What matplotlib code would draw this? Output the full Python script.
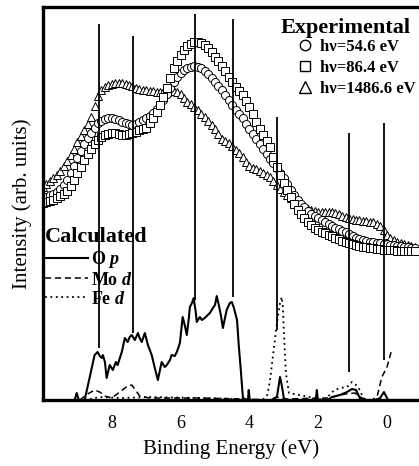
import matplotlib
matplotlib.use("Agg")
import matplotlib.pyplot as plt
from matplotlib.lines import Line2D

plt.rcParams['font.family'] = 'Liberation Serif'
plt.rcParams['mathtext.fontset'] = 'custom'
plt.rcParams['mathtext.rm'] = 'Liberation Serif:bold'
plt.rcParams['mathtext.it'] = 'Liberation Serif:italic:bold'

# experimental spectra, binding energy (eV) vs intensity (arb. units)
exp_energy = [10.0, 9.9, 9.8, 9.7, 9.6, 9.5, 9.4, 9.3, 9.2, 9.1, 9.0, 8.9, 8.8, 8.7,
              8.6, 8.5, 8.4, 8.3, 8.2, 8.1, 8.0, 7.9, 7.8, 7.7, 7.6, 7.5, 7.4, 7.3,
              7.2, 7.1, 7.0, 6.9, 6.8, 6.7, 6.6, 6.5, 6.4, 6.3, 6.2, 6.1, 6.0, 5.9,
              5.8, 5.7, 5.6, 5.5, 5.4, 5.3, 5.2, 5.1, 5.0, 4.9, 4.8, 4.7, 4.6, 4.5,
              4.4, 4.3, 4.2, 4.1, 4.0, 3.9, 3.8, 3.7, 3.6, 3.5, 3.4, 3.3, 3.2, 3.1,
              3.0, 2.9, 2.8, 2.7, 2.6, 2.5, 2.4, 2.3, 2.2, 2.1, 2.0, 1.9, 1.8, 1.7,
              1.6, 1.5, 1.4, 1.3, 1.2, 1.1, 1.0, 0.9, 0.8, 0.7, 0.6, 0.5, 0.4, 0.3,
              0.2, 0.1, 0.0, -0.1, -0.2, -0.3, -0.4, -0.5, -0.6, -0.7, -0.8]
hv_54 = [202, 203, 205, 206, 208, 211, 215, 220, 227, 234, 242, 249, 256, 262,
         267, 272, 277, 279, 281, 282, 282, 281, 280, 278, 277, 276, 275, 276,
         278, 280, 282, 284, 287, 291, 295, 300, 306, 312, 318, 323, 327, 330,
         332, 333, 334, 333, 332, 329, 326, 322, 318, 314, 310, 305, 300, 295,
         290, 286, 282, 276, 271, 266, 261, 256, 251, 246, 241, 237, 232, 227,
         222, 216, 210, 205, 200, 196, 193, 189, 186, 184, 182, 180, 178, 176,
         174, 172, 171, 169, 168, 166, 164, 162, 161, 160, 159, 158, 158, 157,
         157, 156, 156, 155, 155, 154, 154, 153, 153, 152, 152]
hv_86 = [197, 198, 199, 200, 202, 204, 206, 209, 214, 220, 227, 233, 240, 246,
         251, 256, 260, 263, 265, 266, 267, 267, 266, 265, 265, 266, 267, 268,
         270, 271, 272, 277, 282, 288, 295, 303, 312, 322, 332, 339, 345, 350,
         354, 356, 358, 358, 357, 355, 352, 348, 343, 339, 334, 329, 323, 318,
         313, 309, 305, 299, 293, 286, 278, 271, 265, 259, 253, 243, 233, 225,
         217, 210, 203, 196, 190, 186, 182, 178, 175, 172, 170, 168, 167, 165,
         164, 162, 161, 159, 158, 157, 156, 155, 154, 153, 153, 152, 152, 151,
         151, 150, 150, 150, 150, 149, 149, 149, 149, 149, 149]
hv_1486 = [213, 216, 219, 222, 225, 229, 234, 239, 245, 251, 258, 264, 270, 276,
           283, 294, 304, 310, 313, 315, 316, 317, 317, 317, 316, 315, 314, 312,
           311, 310, 310, 309, 309, 308, 308, 308, 308, 309, 309, 308, 306, 302,
           298, 296, 293, 290, 286, 283, 279, 275, 271, 266, 261, 259, 257, 254,
           250, 247, 243, 238, 234, 232, 231, 229, 227, 225, 223, 219, 215, 211,
           208, 205, 202, 199, 197, 194, 192, 191, 190, 189, 188, 188, 188, 188,
           188, 187, 186, 184, 183, 182, 181, 180, 180, 179, 179, 178, 178, 176,
           174, 170, 165, 162, 160, 158, 157, 156, 155, 154, 153]

# calculated partial DOS
op_energy = [9.08, 9.02, 8.96, 8.79, 8.64, 8.50, 8.41, 8.35, 8.29, 8.26, 8.20, 8.15,
             8.06, 7.97, 7.88, 7.83, 7.71, 7.62, 7.54, 7.48, 7.42, 7.33, 7.24, 7.19,
             7.13, 7.04, 6.95, 6.84, 6.75, 6.66, 6.60, 6.55, 6.46, 6.40, 6.31, 6.26,
             6.17, 6.11, 6.02, 5.94, 5.88, 5.82, 5.76, 5.73, 5.67, 5.62, 5.56, 5.53,
             5.44, 5.38, 5.30, 5.21, 5.15, 5.06, 5.00, 4.95, 4.89, 4.83, 4.77, 4.71,
             4.66, 4.57, 4.51, 4.45, 4.36, 4.31, 4.25, 4.19, 4.13, 4.04, 4.02, 3.99,
             3.35, 3.20, 3.11, 3.06, 3.00, 2.94, 2.07, 2.04, 2.01, 1.72, 1.60, 1.37,
             1.16, 1.02, 0.90, 0.79, 0.73, 0.35, 0.20, 0.09, 0.03, -0.03, -0.93]
op_dos = [0, 7, 0, 0, 23, 45, 48, 44, 42, 45, 38, 22,
          35, 30, 38, 35, 48, 62, 58, 63, 65, 60, 67, 62,
          58, 67, 55, 45, 32, 20, 30, 38, 33, 35, 40, 45,
          44, 48, 57, 83, 75, 65, 82, 93, 97, 102, 88, 78,
          83, 80, 82, 85, 87, 92, 95, 104, 95, 85, 72, 82,
          90, 97, 98, 92, 80, 55, 30, 3, 0, 0, 10, 0,
          0, 3, 23, 15, 2, 0, 0, 10, 0, 0, 3, 5,
          8, 11, 10, 2, 0, 0, 2, 8, 4, 0, 0]

mo_energy = [8.93, 8.70, 8.50, 8.35, 8.20, 8.00, 7.77, 7.54, 7.42, 7.31, 7.19, 6.90,
             5.45, 4.16, 3.43, 3.20, 3.00, 1.69, 1.22, 0.93, 0.73, 0.44, 0.29,
             0.15, 0.00, -0.12]
mo_dos = [0, 6, 10, 8, 4, 2, 8, 14, 15, 10, 4, 2,
          2, 1, 0, 3, 1, 2, 6, 7, 2, 0, 3, 23,
          33, 48]

fe_energy = [8.79, 8.35, 7.77, 6.90, 5.44, 4.28, 3.62, 3.48, 3.40, 3.32, 3.20, 3.11,
             3.06, 3.03, 3.00, 2.94, 2.85, 1.82, 1.67, 1.53, 1.36, 1.16, 1.02, 0.90,
             0.79, 0.67, -0.93]
fe_dos = [0, 3, 2, 3, 2, 1, 0, 5, 20, 43, 77, 97,
          103, 95, 70, 27, 7, 0, 5, 10, 12, 13, 18, 15,
          10, 0, 0]

# positions of the features marked in the spectra
feature_energy = [8.38, 7.39, 5.57, 4.48, 3.20, 1.10, 0.09]
feature_low = [52, 67, 100, 103, 70, 28, 40]
feature_high = [376, 364, 386, 381, 283, 267, 277]

fig = plt.figure(figsize=(4.19, 4.66), dpi=100)
ax = fig.add_axes([0.1026, 0.1416, 0.8974, 0.8433])

mk = dict(linestyle='none', mfc='white', mec='black', mew=0.7, ms=5.8)
ax.plot(exp_energy, hv_1486, marker='^', **mk)
ax.plot(exp_energy, hv_54, marker='o', **mk)
ax.plot(exp_energy, hv_86, marker='s', **mk)

ax.plot(op_energy, op_dos, color='black', lw=1.5)
ax.plot(mo_energy, mo_dos, color='black', lw=1.1, linestyle=(0, (4, 2.5)))
ax.plot(fe_energy, fe_dos, color='black', lw=1.3, linestyle=(0, (1, 2)))

ax.vlines(feature_energy, feature_low, feature_high, color='black', lw=1.3, zorder=5)

ax.set_xlim(10.0, -0.93)
ax.set_ylim(0, 393)
ax.set_xticks([8, 6, 4, 2, 0])
ax.set_yticks([])
ax.tick_params(axis='x', length=0, pad=11, labelsize=13)
for s in ['left', 'bottom', 'top']:
    ax.spines[s].set_linewidth(2.4)
ax.spines['right'].set_visible(False)

ax.set_xlabel('Binding Energy (eV)', fontsize=15, labelpad=5)
ax.set_ylabel('Intensity (arb. units)', fontsize=15, labelpad=8)

ax.text(0.806, 0.947, 'Experimental', transform=ax.transAxes, ha='center',
        va='center', fontsize=16, fontweight='bold')
exp_handles = [
    Line2D([], [], marker='o', linestyle='none', mfc='white', mec='black', mew=1.0, ms=7.5),
    Line2D([], [], marker='s', linestyle='none', mfc='white', mec='black', mew=1.0, ms=7.5),
    Line2D([], [], marker='^', linestyle='none', mfc='white', mec='black', mew=1.0, ms=8),
]
leg1 = ax.legend(exp_handles, ['h\u03bd=54.6 eV', 'h\u03bd=86.4 eV', 'h\u03bd=1486.6 eV'],
                 loc='upper right', bbox_to_anchor=(0.99, 0.918),
                 frameon=False, borderpad=0, borderaxespad=0, handlelength=1.0,
                 handletextpad=0.35, labelspacing=0.3,
                 prop={'weight': 'bold', 'size': 12})
ax.add_artist(leg1)

calc_handles = [
    Line2D([], [], color='black', lw=1.5),
    Line2D([], [], color='black', lw=1.1, linestyle=(0, (4, 2.5))),
    Line2D([], [], color='black', lw=1.3, linestyle=(0, (1, 2))),
]
ax.legend(calc_handles, ['O $p$', 'Mo $d$', 'Fe $d$'], title='Calculated',
          loc='upper left', bbox_to_anchor=(0.005, 0.44), alignment='left',
          frameon=False, borderpad=0, borderaxespad=0, handlelength=2.4,
          handletextpad=0.15, labelspacing=0.1,
          prop={'weight': 'bold', 'size': 13},
          title_fontproperties={'weight': 'bold', 'size': 16})

fig.savefig('out.png', dpi=100)
